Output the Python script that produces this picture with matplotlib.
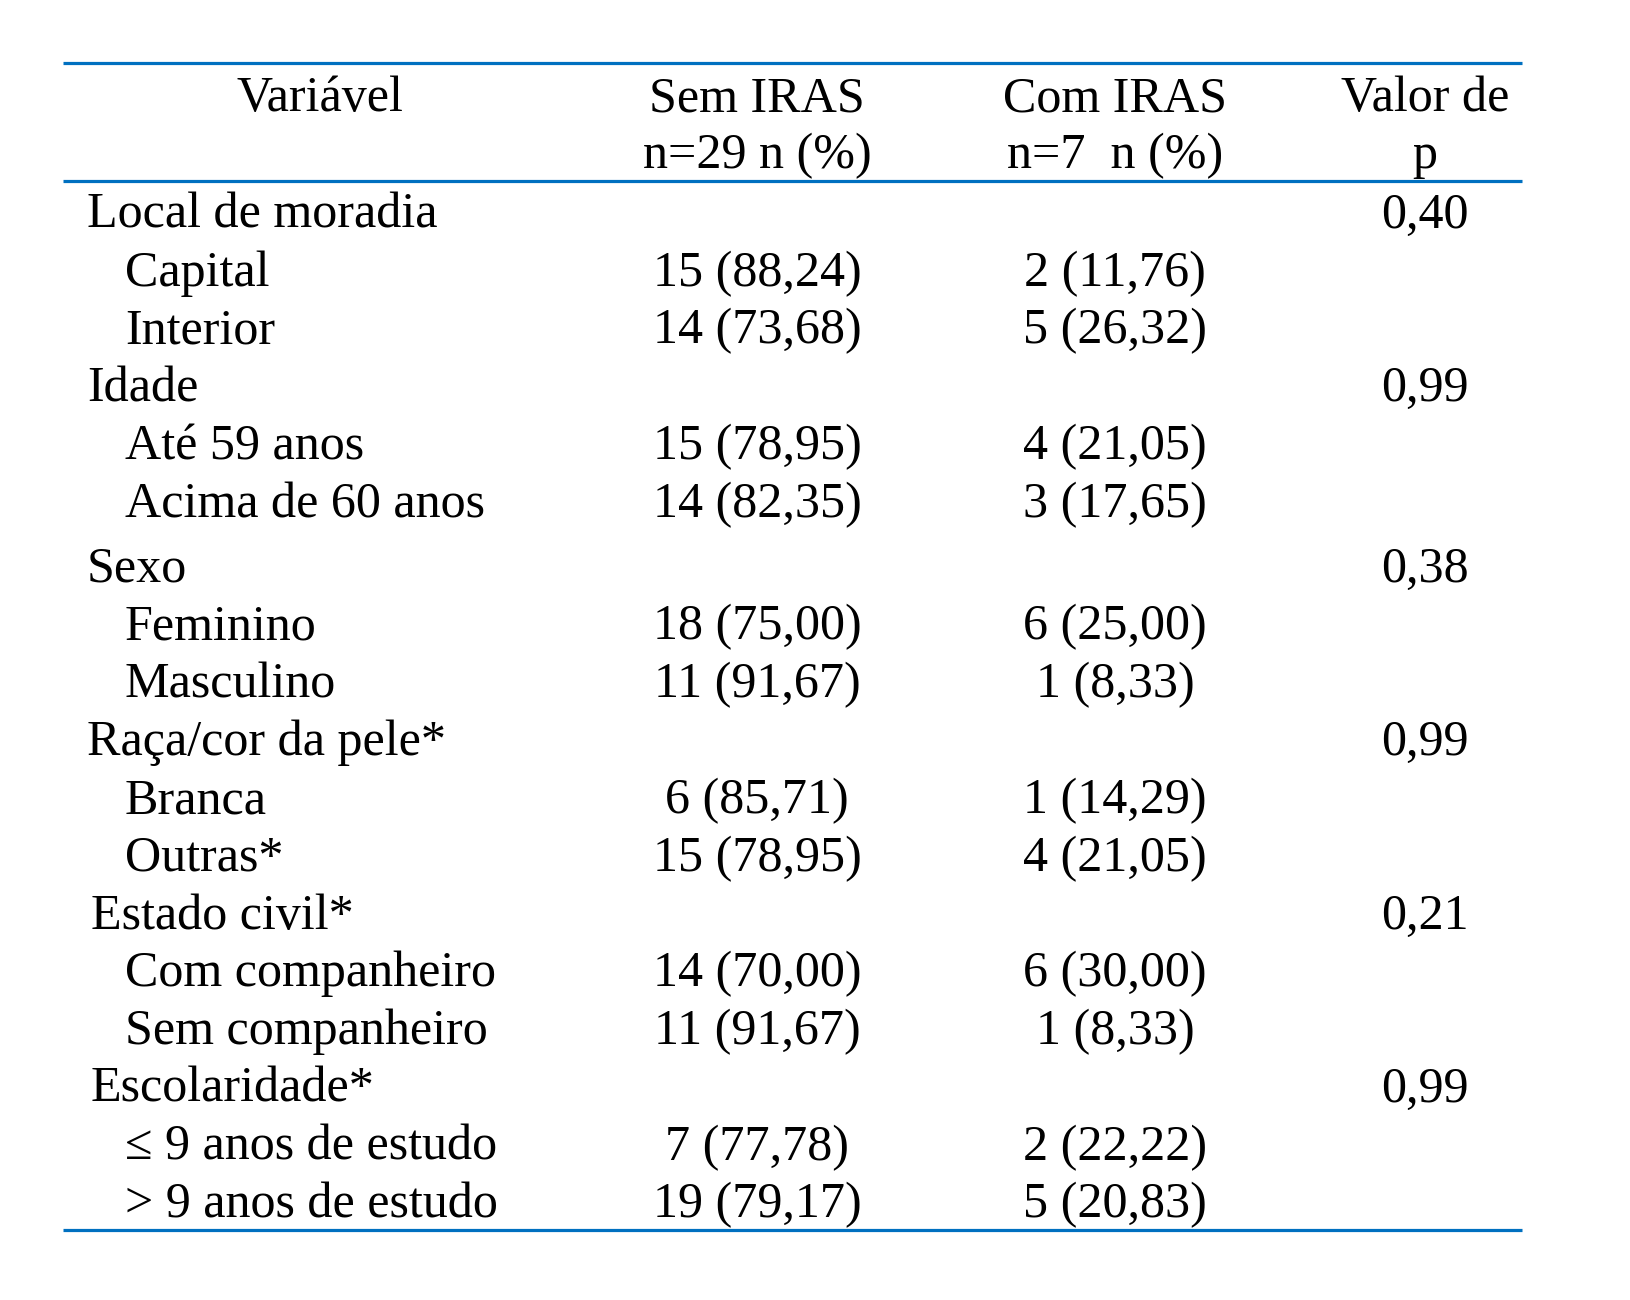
import matplotlib
matplotlib.use("Agg")
import matplotlib.pyplot as plt

# table content
groups = ["Local de moradia", "Idade", "Sexo", "Raça/cor da pele*",
          "Estado civil*", "Escolaridade*"]
p_values = ["0,40", "0,99", "0,38", "0,99", "0,21", "0,99"]
subcats = [["Capital", "Interior"],
           ["Até 59 anos", "Acima de 60 anos"],
           ["Feminino", "Masculino"],
           ["Branca", "Outras*"],
           ["Com companheiro", "Sem companheiro"],
           ["≤ 9 anos de estudo", "> 9 anos de estudo"]]
sem_n = [[15, 14], [15, 14], [18, 11], [6, 15], [14, 11], [7, 19]]
sem_pct = [[88.24, 73.68], [78.95, 82.35], [75.00, 91.67],
           [85.71, 78.95], [70.00, 91.67], [77.78, 79.17]]
com_n = [[2, 5], [4, 3], [6, 1], [1, 4], [6, 1], [2, 5]]
com_pct = [[11.76, 26.32], [21.05, 17.65], [25.00, 8.33],
            [14.29, 21.05], [30.00, 8.33], [22.22, 20.83]]
header1 = ["Variável", "Sem IRAS", "Com IRAS", "Valor de"]
header2 = ["", "n=29 n (%)", "n=7  n (%)", "p"]

FONT = "Liberation Serif"
FS = 36.1
BLUE = "#0070C0"

fig = plt.figure(figsize=(16.3, 13), dpi=100)
ax = fig.add_axes([0, 0, 1, 1])
ax.set_xlim(0, 1630)
ax.set_ylim(1300, 0)
ax.axis("off")

col_x = [320, 757, 1115, 1425]


def fmt(n, p):
    return f"{n} ({p:.2f})".replace(".", ",")


def put(x, y, s, ha="left"):
    ax.text(x, y, s, ha=ha, va="baseline", fontsize=FS, family=FONT, color="black")


# header
for x, h1, h2 in zip(col_x, header1, header2):
    put(x, 111, h1, ha="center")
    if h2:
        put(x, 168, h2, ha="center")

# rule lines
for y in (63, 181, 1230):
    ax.plot([63, 1522], [y, y], color=BLUE, lw=2.3, solid_capstyle="butt")

# body
step = 57.8
row = 0
for g, name in enumerate(groups):
    y = 228 + row * step + (7 if row >= 6 else 0)
    put(91 if g >= 4 else 87, y, name)
    put(col_x[3], y, p_values[g], ha="center")
    row += 1
    for k, sub in enumerate(subcats[g]):
        y = 228 + row * step + (7 if row >= 6 else 0)
        put(125, y, sub)
        put(col_x[1], y, fmt(sem_n[g][k], sem_pct[g][k]), ha="center")
        put(col_x[2], y, fmt(com_n[g][k], com_pct[g][k]), ha="center")
        row += 1

fig.savefig("out.png", dpi=100, facecolor="white")
